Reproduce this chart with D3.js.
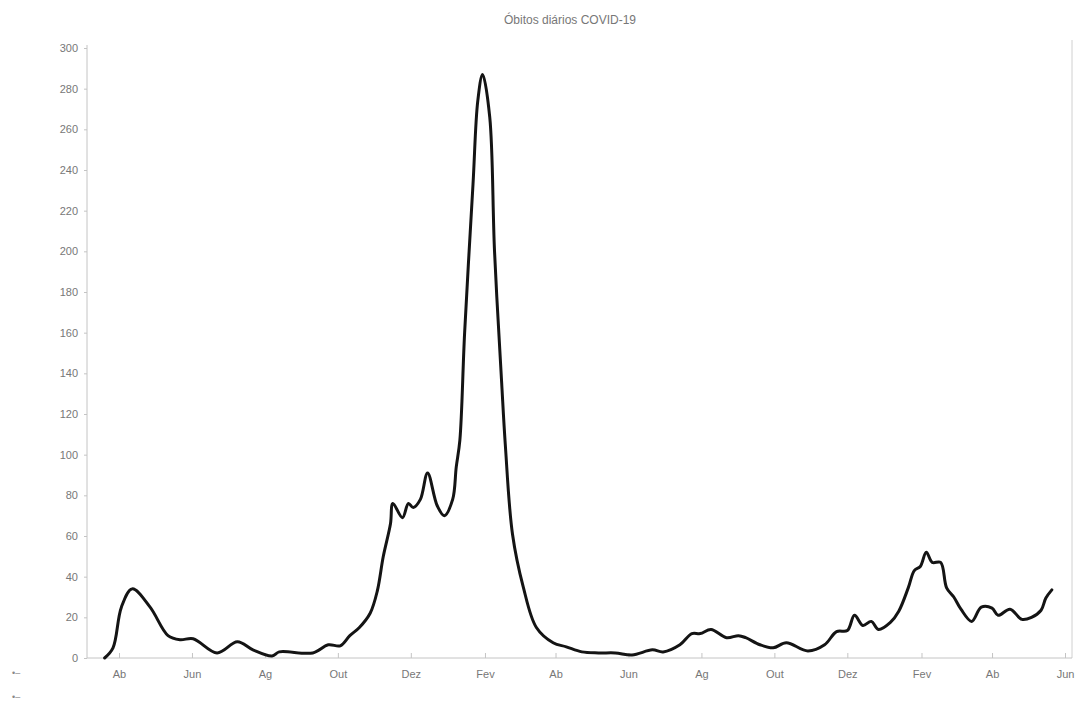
<!DOCTYPE html>
<html>
  <head>
    <meta charset="utf-8">
    <title>Óbitos diários COVID-19</title>
    <script src="https://d3js.org/d3.v7.min.js"></script>
  </head>
  <body style="margin:0;background:#fff">
<style>
  text { font-family: "Liberation Sans", Arial, sans-serif; fill: #666; }
  .axis path, .axis line { stroke: #c4c4c4; }
  .axis text { font-size: 11px; fill: #777; }
  .curve { fill: none; stroke: #141414; stroke-width: 3; stroke-linejoin: round; stroke-linecap: round; }
</style>
<script>

  // data (7-day mean of daily deaths)
  var dates = [
    "2020-03-20","2020-03-27","2020-04-03","2020-04-12","2020-04-27","2020-05-12","2020-05-22",
    "2020-06-02","2020-06-22","2020-07-09","2020-07-22","2020-08-07","2020-08-13","2020-09-10",
    "2020-09-23","2020-10-03","2020-10-11","2020-10-19","2020-10-28","2020-11-03","2020-11-08",
    "2020-11-14","2020-11-16","2020-11-24","2020-11-29","2020-12-03","2020-12-09","2020-12-15",
    "2020-12-23","2020-12-29","2021-01-05","2021-01-08","2021-01-11","2021-01-15","2021-01-22",
    "2021-01-26","2021-01-30","2021-02-05","2021-02-09","2021-02-15","2021-02-18","2021-02-24",
    "2021-03-05","2021-03-16","2021-03-30","2021-04-10","2021-04-23","2021-05-07","2021-05-21",
    "2021-06-04","2021-06-21","2021-06-30","2021-07-14","2021-07-24","2021-07-31","2021-08-09",
    "2021-08-22","2021-09-01","2021-09-07","2021-09-19","2021-09-30","2021-10-11","2021-10-29",
    "2021-11-12","2021-11-22","2021-12-01","2021-12-07","2021-12-14","2021-12-21","2021-12-27",
    "2022-01-06","2022-01-13","2022-01-21","2022-01-26","2022-01-31","2022-02-05","2022-02-10",
    "2022-02-17","2022-02-22","2022-02-28","2022-03-06","2022-03-15","2022-03-23","2022-04-01",
    "2022-04-06","2022-04-16","2022-04-26","2022-05-04","2022-05-12","2022-05-16","2022-05-21"
  ];
  var deaths = [
    0, 5, 25, 34, 25, 11, 9,
    9.5, 2.5, 8, 4, 1, 3, 2.5,
    6.5, 6, 11, 15, 22, 33, 50,
    66, 76, 69, 76, 74, 78, 91,
    75, 70, 78, 94, 107, 160, 233,
    274, 287, 266, 200, 135, 105, 61,
    35, 15, 7.5, 5.5, 3, 2.5, 2.5,
    1.5, 4, 3, 6.5, 12, 12, 14,
    10, 11, 10, 6.5, 5, 7.5, 3.5,
    6.5, 13, 13.5, 21, 16, 18, 14,
    17.5, 23, 34.6, 43, 45, 52, 47,
    47, 34.5, 30, 24, 18, 25, 24.5,
    21, 24, 19, 20, 23.5, 29.5, 33.5
  ];
  var yTicks = d3.range(0, 301, 20);
  var monthNames = ["Jan","Fev","Mar","Ab","Mai","Jun","Jul","Ag","Set","Out","Nov","Dez"];
  var title = "Óbitos diários COVID-19";

  var w = 1081, h = 705;
  var parse = d3.utcParse("%Y-%m-%d");
  var series = dates.map(function(d, i) { return {date: parse(d), value: deaths[i]}; });

  var svg = d3.select("body").append("svg")
      .attr("width", w)
      .attr("height", h);

  var start = new Date(Date.UTC(2020, 3, 1)),
      end = new Date(Date.UTC(2022, 5, 1));

  var x = d3.scaleUtc()
      .domain([start, end])
      .range([119, 1065]);

  var y = d3.scaleLinear()
      .domain([0, 300])
      .range([658, 48]);

  // right frame line (faint, like the scan)
  svg.append("line")
      .attr("x1", 1072).attr("x2", 1072)
      .attr("y1", 40).attr("y2", y(0))
      .attr("stroke", "#d0d0d0");

  // y axis
  var yAxis = svg.append("g")
      .attr("class", "axis")
      .attr("transform", "translate(87,0)")
      .call(d3.axisLeft(y).tickValues(yTicks).tickSize(3).tickPadding(6));
  yAxis.select(".domain").attr("d", "M0," + (y(300) - 3) + "V" + y(0));

  // x axis: every second month from Ab(ril) 2020
  var xAxis = svg.append("g")
      .attr("class", "axis")
      .attr("transform", "translate(0," + y(0) + ")")
      .call(d3.axisBottom(x)
        .tickValues(d3.utcMonth.range(start, d3.utcDay.offset(end, 1), 2))
        .tickFormat(function(d) { return monthNames[d.getUTCMonth()]; })
        .tickSizeInner(-5).tickSizeOuter(0).tickPadding(12));
  xAxis.select(".domain").attr("d", "M87,0H1072");

  // line
  var line = d3.line()
      .x(function(d) { return x(d.date); })
      .y(function(d) { return y(d.value); })
      .curve(d3.curveCatmullRom.alpha(0.5));

  svg.append("path")
      .datum(series)
      .attr("class", "curve")
      .attr("d", line);

  // title
  svg.append("text")
      .attr("x", 570)
      .attr("y", 24)
      .attr("text-anchor", "middle")
      .style("font-size", "12px")
      .style("fill", "#777")
      .text(title);

  // stray marks at bottom left of the scan
  svg.selectAll("text.mark")
      .data([676, 700])
    .enter().append("text")
      .attr("class", "mark")
      .attr("x", 12)
      .attr("y", function(d) { return d; })
      .style("font-size", "9px")
      .style("fill", "#888")
      .text("•–");

</script>
  </body>
</html>
